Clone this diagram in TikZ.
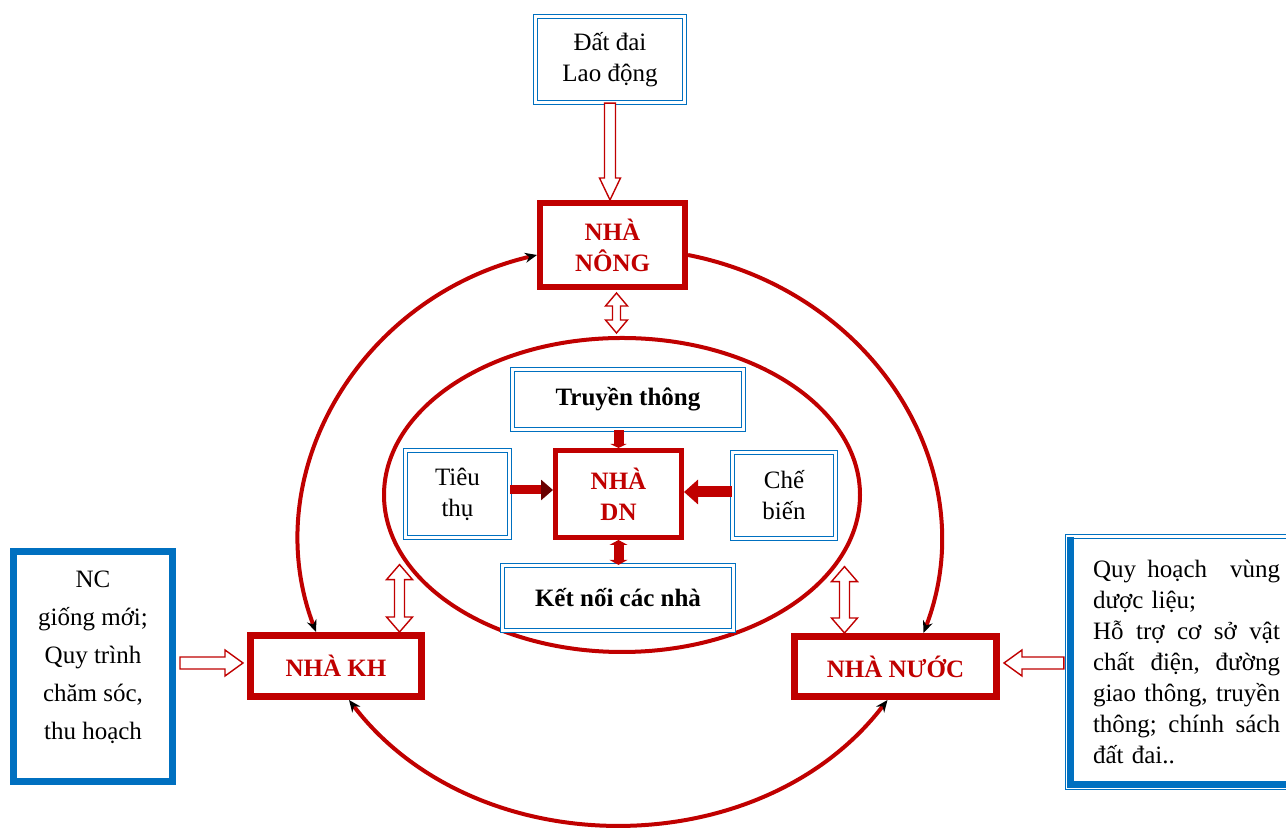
\documentclass[tikz,border=0pt]{standalone}
\usepackage{fontspec}
\setmainfont{Liberation Serif}
\usetikzlibrary{calc,arrows.meta,shapes.geometric}
\definecolor{dred}{RGB}{192,0,0}
\definecolor{dblue}{RGB}{0,112,192}
\newcommand{\bigtxt}{\fontsize{25pt}{31pt}\selectfont}
\newcommand{\jline}[1]{\makebox[187pt][l]{#1}}
% hollow block arrow: #1 start, #2 tip, #3 shaft half width, #4 head half width, #5 head length
\newcommand{\hollowarrow}[5]{%
  \coordinate (hac) at ($(#2)!#5!(#1)$);
  \draw[hollow] ($(#1)!#3!90:(#2)$) -- ($(hac)!#3!90:(#2)$) -- ($(hac)!#4!90:(#2)$) -- (#2)
    -- ($(hac)!#4!-90:(#2)$) -- ($(hac)!#3!-90:(#2)$) -- ($(#1)!#3!-90:(#2)$) -- cycle;}
% hollow double-headed block arrow
\newcommand{\dblarrow}[5]{%
  \coordinate (dac1) at ($(#1)!#5!(#2)$);
  \coordinate (dac2) at ($(#2)!#5!(#1)$);
  \draw[hollow] (#1) -- ($(dac1)!#4!90:(#2)$) -- ($(dac1)!#3!90:(#2)$) -- ($(dac2)!#3!90:(#2)$)
    -- ($(dac2)!#4!90:(#2)$) -- (#2) -- ($(dac2)!#4!-90:(#2)$) -- ($(dac2)!#3!-90:(#2)$)
    -- ($(dac1)!#3!-90:(#2)$) -- ($(dac1)!#4!-90:(#2)$) -- cycle;}
\tikzset{
  bluebox/.style={draw=dblue, double=white, line width=1.2pt, double distance=2.5pt, fill=white,
    inner sep=0pt, align=center, font=\bigtxt},
  redbox/.style={draw=dred, line width=7pt, fill=white, inner sep=0pt, align=center,
    font=\bigtxt\bfseries, text=dred},
  hollow/.style={draw=dred, line width=1.4pt, fill=white, line join=miter},
  ring/.style={draw=dred, line width=4pt},
  >={Stealth[length=12pt,width=10pt,color=black]},
  thickred/.style={draw=dred, line width=9pt},
}
\begin{document}
\begin{tikzpicture}[x=1pt,y=1pt]
\useasboundingbox[fill=white] (0,0) rectangle (1286,829);

% inner ellipse
\node[draw=dred, line width=4pt, ellipse, minimum width=476pt, minimum height=314pt, inner sep=0pt] (inner) at (622,334) {};

% main boxes
\node[bluebox, minimum width=149pt, minimum height=86pt] (dat) at (610,769.5) {Đất đai\\Lao động};
\node[redbox, line width=6pt, minimum width=145pt, minimum height=84pt] (nong) at (612.5,584) {NHÀ\\NÔNG};
\node[redbox, minimum width=171pt, minimum height=61pt] (kh) at (336,163) {NHÀ KH};
\node[redbox, minimum width=202pt, minimum height=60pt] (nuoc) at (895.5,162.5) {NHÀ NƯỚC};

% inner boxes
\node[bluebox, font=\bigtxt\bfseries, minimum width=231pt, minimum height=60pt] (truyen) at (628,429.5) {Truyền thông};
\node[bluebox, minimum width=104pt, minimum height=87pt] (tieu) at (457.5,335) {Tiêu\\thụ};
\node[redbox, line width=5pt, minimum width=126pt, minimum height=87pt] (dn) at (618.5,335) {NHÀ\\DN};
\node[bluebox, minimum width=103pt, minimum height=86pt] (che) at (784,333.5) {Chế\\biến};
\node[bluebox, font=\bigtxt\bfseries, minimum width=231pt, minimum height=65pt] (ket) at (618,231) {Kết nối các nhà};

% side boxes
\node[draw=dblue, line width=7pt, fill=white, minimum width=159pt, minimum height=230pt] (nc) at (93,162.5) {};
\node[font=\fontsize{25pt}{38pt}\selectfont, align=center] (nctext) at (93,171.5)
  {NC\\giống mới;\\Quy trình\\chăm sóc,\\thu hoạch};
\node[bluebox, minimum width=238pt, minimum height=251pt, text width=187pt, align=left] (qh) at (1186.5,167)
  {\jline{Quy\hfill hoạch\hfill\hfill vùng}\\
   dược liệu;\\
   \jline{Hỗ\hfill trợ\hfill cơ\hfill sở\hfill vật}\\
   \jline{chất\hfill điện,\hfill đường}\\
   \jline{giao\hfill thông,\hfill truyền}\\
   \jline{thông;\hfill chính\hfill sách}\\
   đất đai..};
\draw[dblue, line width=7pt] ($(qh.north west)+(3.5,-1)$) -- ($(qh.south west)+(3.5,3.5)$) -- ($(qh.south east)+(0,3.5)$);

% outer arcs
\coordinate (la) at ($(kh.north)+(-20,0)$);
\coordinate (lb) at ($(nong.west)+(0,-10)$);
\draw[ring, <->] (la) .. controls +(-60,158) and +(-178,-42) .. (lb);
\coordinate (ra) at ($(nong.east)+(0,-10)$);
\coordinate (rb) at ($(nuoc.north)+(28,0)$);
\draw[ring, ->] (ra) .. controls +(187,-37) and +(62,162) .. (rb);
\coordinate (ba) at ($(kh.south)+(13,0)$);
\coordinate (bb) at ($(nuoc.south)+(-8,0)$);
\draw[ring, <->] (ba) .. controls +(127,-166) and +(-127,-166) .. (bb);

% hollow arrows
\coordinate (datb) at (dat.south |- nong.north);
\hollowarrow{dat.south}{datb}{5.5pt}{10.5pt}{22pt}
\coordinate (nca) at ($(nc.east)+(4,3.5)$);
\coordinate (ncb) at ($(kh.west)+(-4,3)$);
\hollowarrow{nca}{ncb}{6pt}{13pt}{18pt}
\coordinate (qa) at ($(qh.west)+(-3,-1)$);
\coordinate (qb) at ($(nuoc.east)+(4,3.5)$);
\hollowarrow{qa}{qb}{6pt}{13pt}{18pt}

% double hollow arrows
\coordinate (d1a) at ($(nong.south)+(4,-3)$);
\coordinate (d1b) at ($(d1a |- inner.north)+(0,3)$);
\dblarrow{d1a}{d1b}{4pt}{11pt}{13pt}
\coordinate (d2a) at ($(inner.195)+(0,-10)$);
\coordinate (d2b) at (d2a |- kh.north);
\dblarrow{d2a}{d2b}{5pt}{13pt}{15pt}
\coordinate (d3a) at ($(inner.345)+(0,-12)$);
\coordinate (d3b) at (d3a |- nuoc.north);
\dblarrow{d3a}{d3b}{5pt}{13pt}{15pt}

% thick inner arrows
\draw[thickred, -{Triangle[length=12pt,width=20pt,color=dred!55!black]}] ($(tieu.east)+(0,4)$) -- ($(dn.west)+(0,4)$);
\draw[thickred, line width=11pt, -{Triangle[length=14pt,width=24pt]}] ($(che.west)+(0,3.5)$) -- ($(dn.east)+(0,2)$);
\coordinate (tb) at (dn.north |- truyen.south);
\draw[thickred, line width=10pt, -{Triangle[length=4pt,width=16pt]}] (tb) -- (dn.north);
\coordinate (kb) at (dn.south |- ket.north);
\draw[thickred, line width=10pt, {Triangle[length=5pt,width=18pt]}-{Triangle[length=5pt,width=18pt]}] (dn.south) -- (kb);
\end{tikzpicture}
\end{document}
